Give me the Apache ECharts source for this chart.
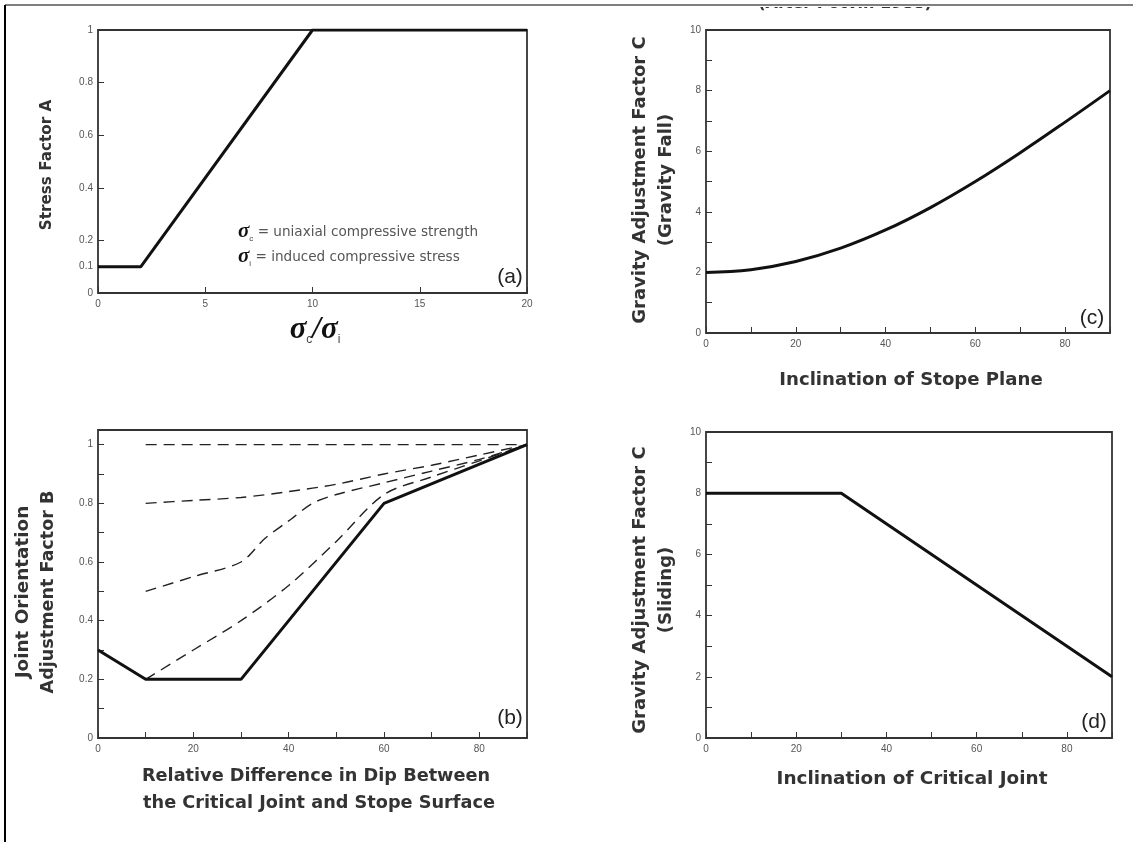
<!DOCTYPE html>
<html>
<head>
<meta charset="utf-8">
<script src="https://cdn.jsdelivr.net/npm/echarts@6/dist/echarts.min.js"></script>
<style>
html,body{margin:0;padding:0;background:#fff;}
#c{width:1133px;height:842px;}
</style>
</head>
<body>
<div id="c"></div>
<script>
// ---- Data ----
// (a) Stress factor A vs sigma_c/sigma_i
const aX = [0, 2, 10, 20];
const aY = [0.1, 0.1, 1, 1];
const aXTicks = [0, 5, 10, 15, 20];
const aYLabels = [0, 0.1, 0.2, 0.4, 0.6, 0.8, 1];

// (b) Joint orientation adjustment factor B
const bSolidX = [0, 10, 30, 60, 90];
const bSolidY = [0.3, 0.2, 0.2, 0.8, 1.0];
const bDash1X = [10, 90];
const bDash1Y = [1.0, 1.0];
const bDash2X = [10, 20, 30, 40, 50, 60, 70, 80, 90];
const bDash2Y = [0.80, 0.81, 0.82, 0.84, 0.865, 0.90, 0.93, 0.965, 1.0];
const bDash3X = [10, 20, 30, 35, 40, 45, 50, 60, 70, 80, 90];
const bDash3Y = [0.50, 0.55, 0.60, 0.68, 0.74, 0.80, 0.83, 0.87, 0.91, 0.95, 1.0];
const bDash4X = [10, 20, 30, 40, 50, 60, 70, 80, 90];
const bDash4Y = [0.20, 0.30, 0.40, 0.52, 0.67, 0.83, 0.89, 0.945, 1.0];
const bXLabels = [0, 20, 40, 60, 80];
const bXTicks = [0, 10, 20, 30, 40, 50, 60, 70, 80, 90];
const bYLabels = [0, 0.2, 0.4, 0.6, 0.8, 1];
const bYTicks = [0, 0.1, 0.2, 0.3, 0.4, 0.5, 0.6, 0.7, 0.8, 0.9, 1];

// (c) Gravity adjustment factor C (gravity fall)
const cX = [0, 10, 20, 30, 40, 50, 60, 70, 80, 90];
const cY = [2.0, 2.09, 2.36, 2.8, 3.4, 4.14, 5.0, 5.95, 6.96, 8.0];

// (d) Gravity adjustment factor C (sliding)
const dX = [0, 30, 90];
const dY = [8, 8, 2];

const cdXLabels = [0, 20, 40, 60, 80];
const cdXTicks = [0, 10, 20, 30, 40, 50, 60, 70, 80, 90];
const cdYLabels = [0, 2, 4, 6, 8, 10];
const cdYTicks = [0, 1, 2, 3, 4, 5, 6, 7, 8, 9, 10];

// ---- helpers ----
const zip = (xs, ys) => xs.map((x, i) => [x, ys[i]]);
const FONT = '"Liberation Sans", Arial, sans-serif';
const TFONT = '"DejaVu Sans", Verdana, sans-serif';
const tickLabel = { color: '#555', fontSize: 10, fontFamily: FONT };

function xAxis(grid, min, max, labels, ticks) {
  return {
    type: 'value', gridIndex: grid, min: min, max: max,
    axisLine: { show: false },
    splitLine: { show: false },
    axisTick: { show: true, inside: true, length: 6, customValues: ticks, lineStyle: { color: '#333', width: 1 } },
    axisLabel: Object.assign({ margin: 6, customValues: labels }, tickLabel)
  };
}
function yAxis(grid, min, max, labels, ticks) {
  return {
    type: 'value', gridIndex: grid, min: min, max: max,
    axisLine: { show: false },
    splitLine: { show: false },
    axisTick: { show: true, inside: true, length: 6, customValues: ticks, lineStyle: { color: '#333', width: 1 } },
    axisLabel: Object.assign({ margin: 5, customValues: labels }, tickLabel)
  };
}
const gridStyle = { show: true, borderColor: '#333', borderWidth: 1.8, backgroundColor: 'transparent' };

const solid = { color: '#111', width: 3 };
const dashed = { color: '#222', width: 1.4, type: [11, 7] };

function line(xi, data, style, smooth) {
  return {
    type: 'line', xAxisIndex: xi, yAxisIndex: xi, data: data,
    showSymbol: false, symbol: 'none', smooth: smooth || false,
    lineStyle: style, silent: true, animation: false, z: 3
  };
}

function vtext(x, y, text, size) {
  return {
    type: 'text', x: x, y: y, rotation: Math.PI / 2, z: 10,
    style: { text: text, font: 'bold ' + size + 'px ' + TFONT, fill: '#333', align: 'center', verticalAlign: 'middle', textAlign: 'center', textVerticalAlign: 'middle' }
  };
}
function htext(x, y, text, size, color) {
  return {
    type: 'text', x: x, y: y, z: 10,
    style: { text: text, font: 'bold ' + size + 'px ' + TFONT, fill: color || '#333', align: 'center', verticalAlign: 'middle', textAlign: 'center', textVerticalAlign: 'middle' }
  };
}
function plabel(x, y, text) {
  return {
    type: 'text', x: x, y: y, z: 10,
    style: { text: text, font: '21px ' + FONT, fill: '#222', align: 'center', verticalAlign: 'middle', textAlign: 'center', textVerticalAlign: 'middle' }
  };
}

const SIG = 'bold italic {S}px "Liberation Serif", "DejaVu Serif", serif';

const option = {
  backgroundColor: '#fff',
  animation: false,
  grid: [
    Object.assign({ left: 98, top: 30, width: 429, height: 263 }, gridStyle),
    Object.assign({ left: 98, top: 430, width: 429, height: 308 }, gridStyle),
    Object.assign({ left: 706, top: 30, width: 404, height: 303 }, gridStyle),
    Object.assign({ left: 706, top: 432, width: 406, height: 306 }, gridStyle)
  ],
  xAxis: [
    xAxis(0, 0, 20, aXTicks, aXTicks),
    xAxis(1, 0, 90, bXLabels, bXTicks),
    xAxis(2, 0, 90, cdXLabels, cdXTicks),
    xAxis(3, 0, 90, cdXLabels, cdXTicks)
  ],
  yAxis: [
    yAxis(0, 0, 1, aYLabels, aYLabels),
    yAxis(1, 0, 1.05, bYLabels, bYTicks),
    yAxis(2, 0, 10, cdYLabels, cdYTicks),
    yAxis(3, 0, 10, cdYLabels, cdYTicks)
  ],
  series: [
    line(0, zip(aX, aY), solid),
    line(1, zip(bDash1X, bDash1Y), dashed),
    line(1, zip(bDash2X, bDash2Y), dashed, 0.3),
    line(1, zip(bDash3X, bDash3Y), dashed, 0.3),
    line(1, zip(bDash4X, bDash4Y), dashed, 0.3),
    line(1, zip(bSolidX, bSolidY), solid),
    line(2, zip(cX, cY), solid, 0.4),
    line(3, zip(dX, dY), solid)
  ],
  graphic: [
    // clipped caption at the top of the page
    { type: 'text', x: 845, y: 12, z: 5,
      style: { text: '(After Potvin 1988)', font: 'bold 16px ' + TFONT, fill: '#333', align: 'center', verticalAlign: 'bottom', textAlign: 'center', textVerticalAlign: 'bottom' } },
    { type: 'rect', shape: { x: 0, y: 0, width: 1133, height: 7 }, style: { fill: '#fff' }, z: 20 },
    { type: 'line', shape: { x1: 5, y1: 5, x2: 1133, y2: 5 }, style: { stroke: '#555', lineWidth: 1.5 }, z: 21 },
    { type: 'line', shape: { x1: 5, y1: 5, x2: 5, y2: 842 }, style: { stroke: '#000', lineWidth: 2 }, z: 21 },

    // (a)
    vtext(47, 165, 'Stress Factor A', 15.2),
    { type: 'text', x: 315, y: 330, z: 10,
      style: {
        text: '{s|σ}{b|c}{s|/σ}{b|i}',
        align: 'center', verticalAlign: 'middle', textAlign: 'center', textVerticalAlign: 'middle',
        rich: {
          s: { font: SIG.replace('{S}', 31), fill: '#111' },
          b: { font: '12px ' + FONT, fill: '#444', verticalAlign: 'bottom', padding: [10, 0, 0, 0] }
        }
      } },
    { type: 'text', x: 238, y: 232, z: 10,
      style: {
        text: '{s|σ}{b|c}{t| = uniaxial compressive strength}',
        align: 'left', verticalAlign: 'middle', textAlign: 'left', textVerticalAlign: 'middle',
        rich: {
          s: { font: SIG.replace('{S}', 21), fill: '#111' },
          b: { font: '8px ' + FONT, fill: '#444', verticalAlign: 'bottom', padding: [7, 0, 0, 0] },
          t: { font: '13.6px ' + TFONT, fill: '#555' }
        }
      } },
    { type: 'text', x: 238, y: 257, z: 10,
      style: {
        text: '{s|σ}{b|i}{t| = induced compressive stress}',
        align: 'left', verticalAlign: 'middle', textAlign: 'left', textVerticalAlign: 'middle',
        rich: {
          s: { font: SIG.replace('{S}', 21), fill: '#111' },
          b: { font: '8px ' + FONT, fill: '#444', verticalAlign: 'bottom', padding: [7, 0, 0, 0] },
          t: { font: '13.6px ' + TFONT, fill: '#555' }
        }
      } },
    plabel(510, 277, '(a)'),

    // (b)
    vtext(23, 592, 'Joint Orientation', 18.4),
    vtext(48, 592, 'Adjustment Factor B', 17.6),
    htext(316, 776, 'Relative Difference in Dip Between', 17.7),
    htext(319, 803, 'the Critical Joint and Stope Surface', 17.7),
    plabel(510, 718, '(b)'),

    // (c)
    vtext(640, 180, 'Gravity Adjustment Factor C', 18.0),
    vtext(666, 180, '(Gravity Fall)', 18.0),
    htext(911, 380, 'Inclination of Stope Plane', 18.1),
    plabel(1092, 318, '(c)'),

    // (d)
    vtext(640, 590, 'Gravity Adjustment Factor C', 18.0),
    vtext(666, 590, '(Sliding)', 18.0),
    htext(912, 779, 'Inclination of Critical Joint', 18.4),
    plabel(1094, 722, '(d)')
  ]
};

const chart = echarts.init(document.getElementById('c'), null, { renderer: 'canvas' });
chart.setOption(option);
</script>
</body>
</html>
